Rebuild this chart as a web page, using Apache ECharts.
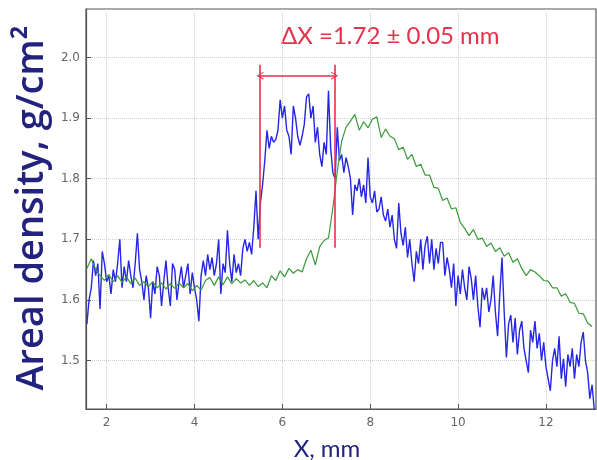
<!DOCTYPE html>
<html>
<head>
<meta charset="utf-8">
<script src="https://cdn.jsdelivr.net/npm/echarts@6/dist/echarts.min.js"></script>
<style>
html,body{margin:0;padding:0;background:#fff;}
#chart{width:597px;height:460px;}
</style>
</head>
<body>
<div id="chart"></div>
<script>
// ---- data ----
const xTicks = [2, 4, 6, 8, 10, 12];
const yTicks = [1.5, 1.6, 1.7, 1.8, 1.9, 2.0];

const blueX = [
1.55,1.60,1.65,1.70,1.75,1.80,1.85,1.90,1.95,2.00,
2.05,2.10,2.15,2.20,2.25,2.30,2.35,2.40,2.45,2.50,
2.55,2.60,2.65,2.70,2.75,2.80,2.85,2.90,2.95,3.00,
3.05,3.10,3.15,3.20,3.25,3.30,3.35,3.40,3.45,3.50,
3.55,3.60,3.65,3.70,3.75,3.80,3.85,3.90,3.95,4.00,
4.05,4.10,4.15,4.20,4.25,4.30,4.35,4.40,4.45,4.50,
4.55,4.60,4.65,4.70,4.75,4.80,4.85,4.90,4.95,5.00,
5.05,5.10,5.15,5.20,5.25,5.30,5.35,5.40,5.45,5.50,
5.55,5.60,5.65,5.70,5.75,5.80,5.85,5.90,5.95,6.00,
6.05,6.10,6.15,6.20,6.25,6.30,6.35,6.40,6.45,6.50,
6.55,6.60,6.65,6.70,6.75,6.80,6.85,6.90,6.95,7.00,
7.05,7.10,7.15,7.20,7.25,7.30,7.35,7.40,7.45,7.50,
7.55,7.60,7.65,7.70,7.75,7.80,7.85,7.90,7.95,8.00,
8.05,8.10,8.15,8.20,8.25,8.30,8.35,8.40,8.45,8.50,
8.55,8.60,8.65,8.70,8.75,8.80,8.85,8.90,8.95,9.00,
9.05,9.10,9.15,9.20,9.25,9.30,9.35,9.40,9.45,9.50,
9.55,9.60,9.65,9.70,9.75,9.80,9.85,9.90,9.95,10.00,
10.05,10.10,10.15,10.20,10.25,10.30,10.35,10.40,10.45,10.50,
10.55,10.60,10.65,10.70,10.75,10.80,10.85,10.90,10.95,11.00,
11.05,11.10,11.15,11.20,11.25,11.30,11.35,11.40,11.45,11.50,
11.55,11.60,11.65,11.70,11.75,11.80,11.85,11.90,11.95,12.00,
12.05,12.10,12.15,12.20,12.25,12.30,12.35,12.40,12.45,12.50,
12.55,12.60,12.65,12.70,12.75,12.80,12.85,12.90,12.95,13.00,
13.05,13.10
];
const blueY = [
1.56,1.60,1.62,1.665,1.64,1.66,1.585,1.68,1.66,1.63,
1.64,1.61,1.65,1.63,1.66,1.70,1.62,1.655,1.63,1.665,
1.64,1.62,1.66,1.71,1.65,1.63,1.60,1.64,1.62,1.57,
1.63,1.61,1.655,1.64,1.59,1.63,1.665,1.62,1.59,1.66,
1.65,1.60,1.63,1.655,1.62,1.64,1.66,1.61,1.645,1.62,
1.60,1.565,1.64,1.665,1.64,1.675,1.65,1.67,1.64,1.66,
1.70,1.61,1.66,1.645,1.715,1.66,1.63,1.675,1.645,1.66,
1.64,1.685,1.70,1.68,1.695,1.675,1.72,1.78,1.70,1.76,
1.79,1.83,1.88,1.85,1.87,1.86,1.865,1.88,1.93,1.90,
1.92,1.88,1.87,1.84,1.92,1.90,1.87,1.855,1.87,1.89,
1.935,1.94,1.90,1.92,1.86,1.885,1.84,1.82,1.86,1.84,
1.945,1.85,1.81,1.80,1.885,1.83,1.84,1.81,1.835,1.82,
1.80,1.74,1.79,1.78,1.80,1.77,1.79,1.76,1.835,1.77,
1.76,1.78,1.745,1.75,1.77,1.74,1.73,1.75,1.72,1.74,
1.70,1.685,1.76,1.71,1.69,1.72,1.67,1.70,1.66,1.63,
1.68,1.66,1.70,1.65,1.69,1.705,1.66,1.70,1.65,1.685,
1.66,1.695,1.695,1.64,1.67,1.65,1.62,1.66,1.59,1.64,
1.61,1.65,1.62,1.60,1.655,1.635,1.60,1.64,1.59,1.555,
1.62,1.60,1.62,1.58,1.60,1.64,1.58,1.54,1.61,1.67,
1.58,1.505,1.56,1.575,1.53,1.57,1.51,1.55,1.565,1.52,
1.50,1.48,1.55,1.53,1.565,1.52,1.545,1.50,1.53,1.49,
1.47,1.45,1.50,1.52,1.49,1.54,1.47,1.503,1.457,1.51,
1.49,1.52,1.47,1.51,1.49,1.53,1.547,1.50,1.48,1.437,
1.46,1.42
];

const greenX = [
1.55,1.65,1.75,1.85,1.95,2.05,2.15,2.25,2.35,2.45,
2.55,2.65,2.75,2.85,2.95,3.05,3.15,3.25,3.35,3.45,
3.55,3.65,3.75,3.85,3.95,4.05,4.15,4.25,4.35,4.45,
4.55,4.65,4.75,4.85,4.95,5.05,5.15,5.25,5.35,5.45,
5.55,5.65,5.75,5.85,5.95,6.05,6.15,6.25,6.35,6.45,
6.55,6.65,6.75,6.85,6.95,7.05,7.15,7.25,7.35,7.45,
7.55,7.65,7.75,7.85,7.95,8.05,8.15,8.25,8.35,8.45,
8.55,8.65,8.75,8.85,8.95,9.05,9.15,9.25,9.35,9.45,
9.55,9.65,9.75,9.85,9.95,10.05,10.15,10.25,10.35,10.45,
10.55,10.65,10.75,10.85,10.95,11.05,11.15,11.25,11.35,11.45,
11.55,11.65,11.75,11.85,11.95,12.05,12.15,12.25,12.35,12.45,
12.55,12.65,12.75,12.85,12.95,13.05
];
const greenY = [
1.652,1.668,1.650,1.640,1.632,1.642,1.630,1.640,1.629,1.638,
1.627,1.636,1.624,1.630,1.622,1.630,1.620,1.628,1.618,1.627,
1.619,1.628,1.620,1.627,1.615,1.624,1.616,1.632,1.637,1.624,
1.638,1.625,1.638,1.627,1.635,1.628,1.633,1.624,1.632,1.622,
1.628,1.620,1.640,1.632,1.648,1.638,1.652,1.644,1.650,1.646,
1.668,1.682,1.658,1.688,1.698,1.702,1.752,1.812,1.862,1.885,
1.895,1.906,1.880,1.894,1.884,1.898,1.902,1.868,1.882,1.870,
1.866,1.848,1.852,1.832,1.840,1.820,1.824,1.806,1.806,1.786,
1.784,1.764,1.768,1.750,1.752,1.728,1.718,1.706,1.716,1.700,
1.702,1.688,1.694,1.680,1.686,1.672,1.678,1.662,1.668,1.652,
1.640,1.650,1.646,1.640,1.632,1.631,1.620,1.620,1.606,1.610,
1.596,1.594,1.578,1.577,1.562,1.556
];

// annotation (data coordinates)
const markerLeftX = 5.49;
const markerRightX = 7.19;
const markerTopY = 1.988;
const markerBottomY = 1.686;
const arrowY = 1.97;
const annotationText = 'ΔX =1.72 ± 0.05 mm';
const yAxisTitle = 'Areal density, g/cm²';
const xAxisTitle = 'X, mm';

// ---- chart ----
const pairs = (xs, ys) => xs.map((x, i) => [x, ys[i]]);
const red = '#e5324b';
const navy = '#23237e';
const chevron = 'path://M0,10 L5,0 L10,10 L8.6,10 L5,2.8 L1.4,10 Z';

const chart = echarts.init(document.getElementById('chart'), null, {renderer: 'canvas'});
chart.setOption({
  backgroundColor: '#ffffff',
  animation: false,
  grid: {left: 86, top: 9, right: 1, bottom: 51, show: true, borderColor: '#555', borderWidth: 1.2, backgroundColor: 'transparent'},
  xAxis: {
    type: 'value', min: 1.53, max: 13.14,
    axisLine: {show: true, lineStyle: {color: '#555', width: 1.2}},
    axisTick: {show: true, inside: true, length: 5, customValues: xTicks, lineStyle: {color: '#555'}},
    axisLabel: {customValues: xTicks, color: '#666', fontSize: 12, fontFamily: 'DejaVu Sans', margin: 8},
    splitLine: {show: true, lineStyle: {color: '#cfcfcf', type: 'dotted', width: 1}}
  },
  yAxis: {
    type: 'value', min: 1.42, max: 2.08,
    axisLine: {show: true, lineStyle: {color: '#555', width: 1.2}},
    axisTick: {show: true, inside: true, length: 5, customValues: yTicks, lineStyle: {color: '#555'}},
    axisLabel: {customValues: yTicks, color: '#666', fontSize: 12, fontFamily: 'DejaVu Sans', margin: 6,
      formatter: v => v.toFixed(1)},
    splitLine: {show: true, lineStyle: {color: '#cfcfcf', type: 'dotted', width: 1}}
  },
  series: [
    {
      type: 'line', data: pairs(blueX, blueY), showSymbol: false, symbol: 'none',
      lineStyle: {color: '#2626e6', width: 1.4}, z: 2,
      markLine: {
        silent: true, symbol: 'none', animation: false,
        label: {show: false},
        lineStyle: {color: red, width: 1.6, type: 'solid'},
        data: [
          [{coord: [markerLeftX, markerTopY]}, {coord: [markerLeftX, markerBottomY]}],
          [{coord: [markerRightX, markerTopY]}, {coord: [markerRightX, markerBottomY]}],
          [{coord: [markerLeftX, arrowY], symbol: chevron, symbolSize: [8, 7], symbolRotate: 90},
           {coord: [markerRightX, arrowY], symbol: chevron, symbolSize: [8, 7], symbolRotate: -90}]
        ]
      }
    },
    {
      type: 'line', data: pairs(greenX, greenY), showSymbol: false, symbol: 'none',
      lineStyle: {color: '#3a9a3a', width: 1.2}, z: 3
    }
  ],
  graphic: [
    {type: 'text', left: 281, top: 24, style: {text: annotationText, fill: red, font: '24px Lato'}},
    {type: 'text', x: 32, y: 208, rotation: Math.PI / 2,
      style: {text: yAxisTitle, fill: navy, font: '600 38px "Open Sans"', align: 'center', verticalAlign: 'middle'}},
    {type: 'text', x: 327, y: 449, style: {text: xAxisTitle, fill: navy, font: '24px Lato', align: 'center', verticalAlign: 'middle'}}
  ]
});
</script>
</body>
</html>
